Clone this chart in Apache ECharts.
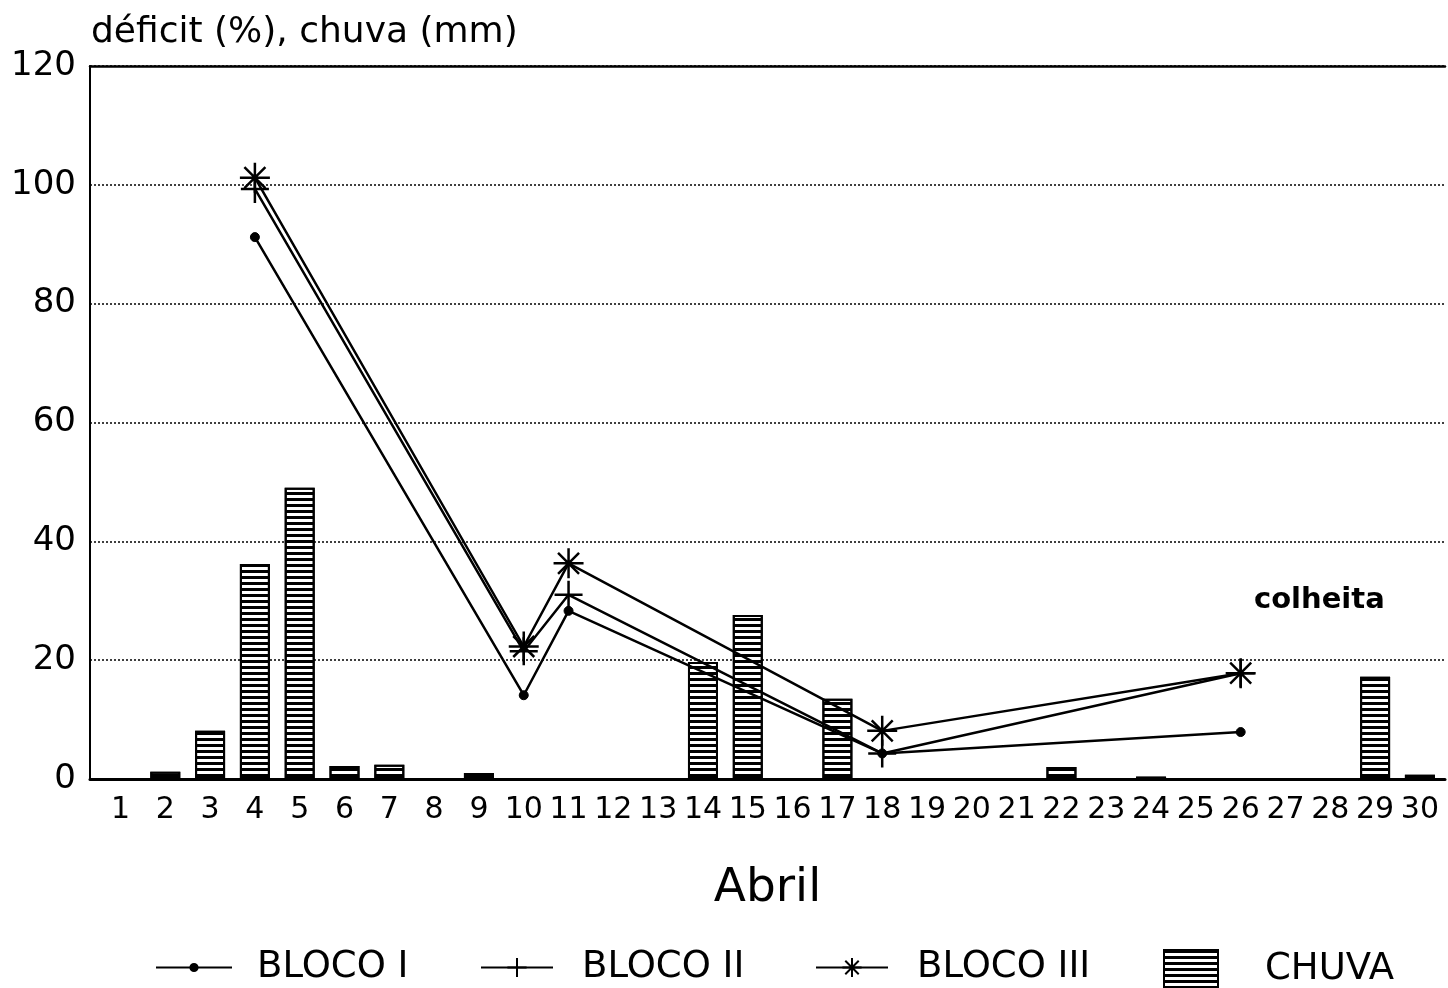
<!DOCTYPE html>
<html>
<head>
<meta charset="utf-8">
<script src="https://cdn.jsdelivr.net/npm/echarts@6/dist/echarts.min.js"></script>
<style>html,body{margin:0;padding:0;background:#fff}#c{width:1448px;height:988px}</style>
</head>
<body>
<div id="c"></div>
<script>
// ---- data ----
var dayLabels = [1,2,3,4,5,6,7,8,9,10,11,12,13,14,15,16,17,18,19,20,21,22,23,24,25,26,27,28,29,30];
var yTicks = [0,20,40,60,80,100,120];
var chuvaDays = [2,3,4,5,6,7,9,14,15,17,22,24,29,30];
var chuvaVals = [1.2,8.1,36.2,49,2.2,2.4,1,19.7,27.6,13.5,2,0.4,17.2,0.7];
var deficitDays = [4,10,11,18,26];
var bloco1 = [91.2,14.1,28.3,4.3,7.9];
var bloco2 = [99.3,21.5,31,4.3,17.8];
var bloco3 = [101.2,22.3,36.3,8.1,17.8];

function pairs(xs, ys){ return xs.map(function(x,i){ return [x, ys[i]]; }); }

var FONT = 'DejaVu Sans';
var chart = echarts.init(document.getElementById('c'), null, {renderer:'canvas'});
var plusPath = 'path://M0,10L20,10M10,0L10,20';
var starPath = 'path://M0,10L20,10M10,0L10,20M3,3L17,17M17,3L3,17';
var legendText = {fontFamily: FONT, fontSize: 37, color: '#000'};

var option = {
  backgroundColor: '#fff',
  animation: false,
  title: {
    text: 'déficit (%), chuva (mm)',
    left: 86, top: 10,
    textStyle: {fontFamily: FONT, fontSize: 36, fontWeight: 'normal', color: '#000'}
  },
  grid: {left: 90, top: 66, right: 3, bottom: 209, containLabel: false},
  xAxis: [{
    type: 'value', min: 0.32, max: 30.56, position: 'bottom',
    axisLine: {show: true, lineStyle: {color: '#000', width: 3}},
    axisTick: {show: false},
    splitLine: {show: false},
    axisLabel: {customValues: dayLabels, color: '#000', fontFamily: FONT, fontSize: 30, margin: 16,
      formatter: function(v){ return String(Math.round(v)); }},
    name: 'Abril', nameLocation: 'middle', nameGap: 86,
    nameTextStyle: {fontFamily: FONT, fontSize: 47, color: '#000'}
  }, {
    type: 'value', min: 0.32, max: 30.56, position: 'top',
    axisLine: {show: true, lineStyle: {color: '#000', width: 2.5}},
    axisTick: {show: false}, axisLabel: {show: false}, splitLine: {show: false}
  }],
  yAxis: {
    type: 'value', min: 0, max: 120, interval: 20,
    axisLine: {show: true, lineStyle: {color: '#000', width: 2}},
    axisTick: {show: false},
    axisLabel: {customValues: yTicks, color: '#000', fontFamily: FONT, fontSize: 34, margin: 14},
    splitLine: {show: true, lineStyle: {color: '#000', width: 1.5, type: [2, 2]}}
  },
  legend: [
    {data: ['BLOCO I'], left: 150, top: 944, itemWidth: 76, itemHeight: 9,
     textStyle: Object.assign({padding: [0,0,0,20]}, legendText)},
    {data: ['BLOCO II'], left: 475, top: 944, itemWidth: 72, itemHeight: 24,
     textStyle: Object.assign({padding: [0,0,0,24]}, legendText)},
    {data: ['BLOCO III'], left: 810, top: 944, itemWidth: 72, itemHeight: 24,
     textStyle: Object.assign({padding: [0,0,0,24]}, legendText)},
    {data: [{name: 'CHUVA', icon: 'rect'}], left: 1158, top: 944, itemWidth: 54, itemHeight: 38,
     textStyle: Object.assign({padding: [0,0,0,42]}, legendText)}
  ],
  graphic: [{
    type: 'text', left: 1254, top: 586,
    style: {text: 'colheita', fontFamily: FONT, fontSize: 29, fontWeight: 'bold', fill: '#000'}
  }],
  series: [
    {
      name: 'CHUVA', type: 'bar', barWidth: 30, z: 1,
      data: pairs(chuvaDays, chuvaVals),
      itemStyle: {color: '#fff', borderColor: '#000', borderWidth: 2,
        decal: {symbol: 'rect', symbolSize: 1, dashArrayX: [1, 0], dashArrayY: [3, 3], rotation: 0, color: '#000'}}
    },
    {
      name: 'BLOCO I', type: 'line', z: 3, data: pairs(deficitDays, bloco1),
      symbol: 'circle', symbolSize: 9,
      lineStyle: {color: '#000', width: 2.5},
      itemStyle: {color: '#000', borderColor: '#000', borderWidth: 1}
    },
    {
      name: 'BLOCO II', type: 'line', z: 3, data: pairs(deficitDays, bloco2),
      symbol: plusPath, symbolSize: 28,
      lineStyle: {color: '#000', width: 2.5},
      itemStyle: {color: '#000', borderColor: '#000', borderWidth: 2.5}
    },
    {
      name: 'BLOCO III', type: 'line', z: 3, data: pairs(deficitDays, bloco3),
      symbol: starPath, symbolSize: 30,
      lineStyle: {color: '#000', width: 2.5},
      itemStyle: {color: '#000', borderColor: '#000', borderWidth: 2.5}
    }
  ]
};
chart.setOption(option);
</script>
</body>
</html>
